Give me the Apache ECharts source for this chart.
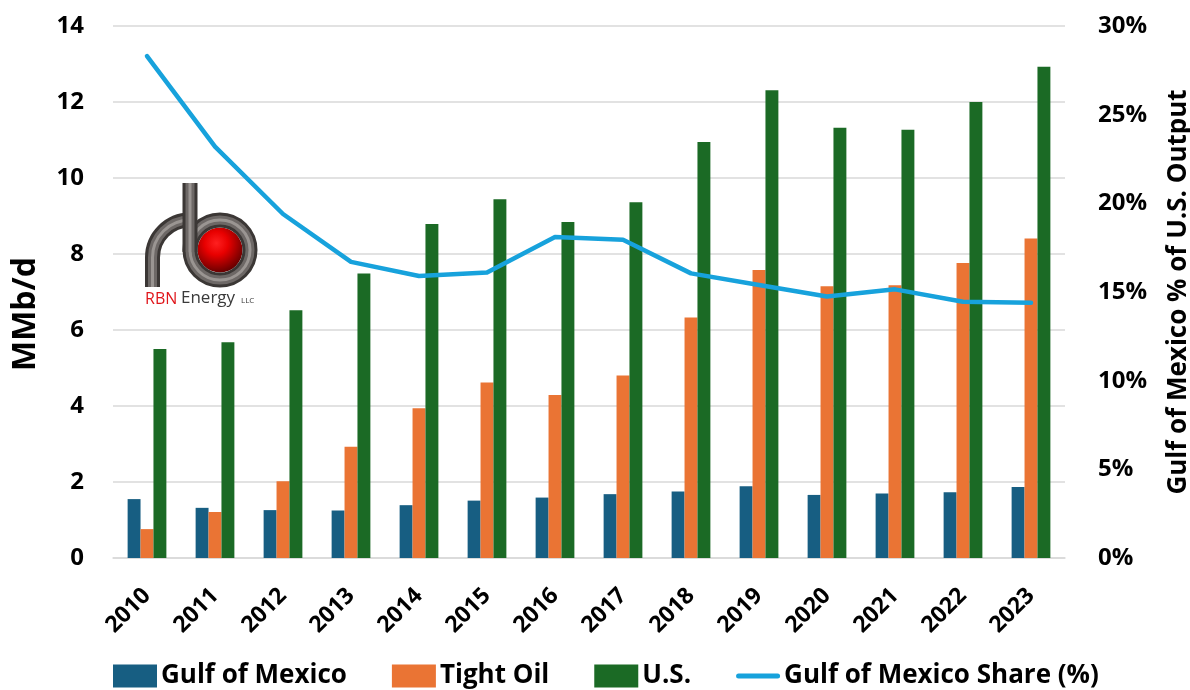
<!DOCTYPE html>
<html>
<head>
<meta charset="utf-8">
<title>Gulf of Mexico vs. U.S. Crude Output</title>
<script src="https://cdn.jsdelivr.net/npm/echarts@6/dist/echarts.min.js"></script>
<style>
  html, body { margin: 0; padding: 0; background: #ffffff; }
  #chart { width: 1190px; height: 690px; }
</style>
</head>
<body>
<div id="chart"></div>
<script>
// Annual crude output, MMb/d, and the Gulf's share of the U.S. total
const years = ['2010', '2011', '2012', '2013', '2014', '2015', '2016', '2017', '2018', '2019', '2020', '2021', '2022', '2023'];
const gulfOfMexico = [1.55, 1.32, 1.26, 1.25, 1.39, 1.51, 1.59, 1.68, 1.75, 1.89, 1.66, 1.70, 1.73, 1.87];
const tightOil = [0.76, 1.21, 2.02, 2.93, 3.94, 4.62, 4.29, 4.80, 6.33, 7.58, 7.15, 7.18, 7.76, 8.41];
const unitedStates = [5.50, 5.68, 6.52, 7.49, 8.79, 9.44, 8.84, 9.36, 10.95, 12.31, 11.32, 11.27, 12.00, 12.93];
const gulfShare = [28.3, 23.2, 19.4, 16.7, 15.9, 16.1, 18.1, 17.95, 16.05, 15.4, 14.75, 15.15, 14.45, 14.4];

const seriesNames = ['Gulf of Mexico', 'Tight Oil', 'U.S.', 'Gulf of Mexico Share (%)'];
const leftTicks = { min: 0, max: 14, interval: 2 };
const rightTicks = { min: 0, max: 30, interval: 5 };

const FONT = "'Open Sans', 'DejaVu Sans', sans-serif";
const chart = echarts.init(document.getElementById('chart'), null, { renderer: 'canvas' });

// Company mark: pipe-shaped "rb" with a red sphere, built from arcs and lines
const pipeLayers = [
  { color: '#3b3735', width: 15 },
  { color: '#6d6866', width: 9 },
  { color: '#9a9592', width: 3 }
];
function pipe(type, shape, z) {
  return pipeLayers.map(function (layer, i) {
    return {
      type: type, z: z + i, shape: shape,
      style: { fill: null, stroke: layer.color, lineWidth: layer.width, lineCap: 'butt' }
    };
  });
}
const logo = [].concat(
  pipe('arc', { cx: 190, cy: 257.5, r: 37.5, startAngle: Math.PI, endAngle: 1.5 * Math.PI, clockwise: true }, 10),
  pipe('line', { x1: 152.5, y1: 257, x2: 152.5, y2: 287 }, 10),
  [{
    type: 'circle', z: 13, shape: { cx: 220, cy: 250, r: 22.5 },
    style: {
      fill: {
        type: 'radial', x: 0.42, y: 0.35, r: 0.75,
        colorStops: [
          { offset: 0, color: '#ff2020' },
          { offset: 0.35, color: '#e80000' },
          { offset: 0.8, color: '#7a0000' },
          { offset: 1, color: '#4a0000' }
        ]
      }
    }
  }],
  pipe('circle', { cx: 220, cy: 250, r: 30 }, 14),
  pipe('line', { x1: 190, y1: 183, x2: 190, y2: 252 }, 18),
  [
    { type: 'text', z: 22, style: { x: 145, y: 307, text: 'RBN', fill: '#e0161b', font: "16px 'Open Sans', sans-serif", verticalAlign: 'bottom' } },
    { type: 'text', z: 22, style: { x: 181, y: 307, text: 'Energy', fill: '#3a3a3a', font: "17px 'Open Sans', sans-serif", verticalAlign: 'bottom' } },
    { type: 'text', z: 22, style: { x: 241, y: 305, text: 'LLC', fill: '#3a3a3a', font: "8px 'Open Sans', sans-serif", verticalAlign: 'bottom' } }
  ]
);

// Legend swatch for the share line: a short bar with rounded ends
const lineIcon = 'path://M2.5,0 L41.5,0 A2.5,2.5 0 0 1 41.5,5 L2.5,5 A2.5,2.5 0 0 1 2.5,0 Z';

const option = {
  backgroundColor: '#ffffff',
  animation: false,
  grid: { left: 113, right: 125, top: 26, bottom: 132, containLabel: false, outerBoundsMode: 'none' },
  legend: {
    data: [
      { name: seriesNames[0], icon: 'rect' },
      { name: seriesNames[1], icon: 'rect' },
      { name: seriesNames[2], icon: 'rect' },
      { name: seriesNames[3], icon: lineIcon }
    ],
    left: 113,
    top: 663,
    padding: 0,
    itemWidth: 44,
    itemHeight: 23,
    itemGap: 45,
    textStyle: { fontFamily: FONT, fontSize: 26, fontWeight: 'bold', color: '#000000', padding: [0, 0, 0, -1] }
  },
  xAxis: {
    type: 'category',
    data: years,
    axisTick: { show: false },
    axisLine: { show: true, lineStyle: { color: '#d9d9d9', width: 1.5 } },
    axisLabel: {
      rotate: 45,
      margin: 34,
      interval: 0,
      fontFamily: FONT,
      fontSize: 23,
      fontWeight: 'bold',
      color: '#000000'
    }
  },
  yAxis: [
    {
      type: 'value',
      min: leftTicks.min,
      max: leftTicks.max,
      interval: leftTicks.interval,
      name: 'MMb/d',
      nameLocation: 'middle',
      nameGap: 71,
      nameTextStyle: { fontFamily: FONT, fontSize: 32, fontWeight: 'bold', color: '#000000', padding: [0, 44, 0, 0] },
      axisLine: { show: false },
      axisTick: { show: false },
      splitLine: { lineStyle: { color: '#d9d9d9', width: 1.5 } },
      axisLabel: { margin: 29, fontFamily: FONT, fontSize: 24, fontWeight: 'bold', color: '#000000' }
    },
    {
      type: 'value',
      min: rightTicks.min,
      max: rightTicks.max,
      interval: rightTicks.interval,
      position: 'right',
      name: 'Gulf of Mexico % of U.S. Output',
      nameLocation: 'middle',
      nameGap: 101,
      nameRotate: 90,
      nameTextStyle: { fontFamily: FONT, fontSize: 26, fontWeight: 'bold', color: '#000000' },
      axisLine: { show: false },
      axisTick: { show: false },
      splitLine: { show: false },
      axisLabel: { margin: 33, formatter: '{value}%', fontFamily: FONT, fontSize: 24, fontWeight: 'bold', color: '#000000' }
    }
  ],
  series: [
    {
      name: seriesNames[0], type: 'bar', yAxisIndex: 0, data: gulfOfMexico,
      barGap: '0%', barCategoryGap: '43%',
      itemStyle: { color: '#175e82' }
    },
    {
      name: seriesNames[1], type: 'bar', yAxisIndex: 0, data: tightOil,
      barGap: '0%', barCategoryGap: '43%',
      itemStyle: { color: '#ea7434' }
    },
    {
      name: seriesNames[2], type: 'bar', yAxisIndex: 0, data: unitedStates,
      barGap: '0%', barCategoryGap: '43%',
      itemStyle: { color: '#1b6a25' }
    },
    {
      name: seriesNames[3], type: 'line', yAxisIndex: 1, data: gulfShare,
      symbol: 'none', showSymbol: false, smooth: false,
      z: 5,
      lineStyle: { color: '#17a2dc', width: 4.5, cap: 'round', join: 'round' },
      itemStyle: { color: '#17a2dc' }
    }
  ],
  graphic: logo
};

chart.setOption(option);
</script>
</body>
</html>
